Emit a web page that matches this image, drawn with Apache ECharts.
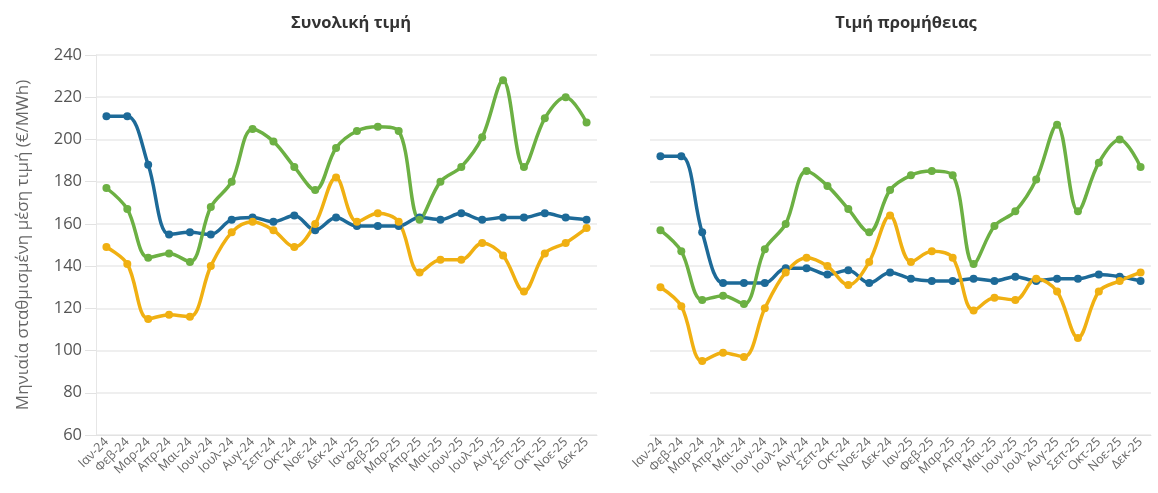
<!DOCTYPE html>
<html lang="el">
<head>
    <meta charset="UTF-8">
    <title>Τιμές ρεύματος</title>
    <style>
        html, body { margin: 0; padding: 0; background: #fff; }
        #main { width: 1158px; height: 493px; }
    </style>
</head>
<body>
<div id="main"></div>
<script src="https://cdn.jsdelivr.net/npm/echarts@6/dist/echarts.min.js"></script>
<script type="text/javascript">
    var months = ['Ιαν-24', 'Φεβ-24', 'Μαρ-24', 'Απρ-24', 'Μαι-24', 'Ιουν-24', 'Ιουλ-24', 'Αυγ-24', 'Σεπ-24', 'Οκτ-24', 'Νοε-24', 'Δεκ-24',
                  'Ιαν-25', 'Φεβ-25', 'Μαρ-25', 'Απρ-25', 'Μαι-25', 'Ιουν-25', 'Ιουλ-25', 'Αυγ-25', 'Σεπ-25', 'Οκτ-25', 'Νοε-25', 'Δεκ-25'];
    var panelTitles = ['Συνολική τιμή', 'Τιμή προμήθειας'];
    var yName = 'Μηνιαία σταθμισμένη μέση τιμή (€/MWh)';

    // Συνολική τιμή
    var totalBlue = [211, 211, 188, 155, 156, 155, 162, 163, 161, 164, 157, 163,
                     159, 159, 159, 163, 162, 165, 162, 163, 163, 165, 163, 162];
    var totalGreen = [177, 167, 144, 146, 142, 168, 180, 205, 199, 187, 176, 196,
                      204, 206, 204, 162, 180, 187, 201, 228, 187, 210, 220, 208];
    var totalYellow = [149, 141, 115, 117, 116, 140, 156, 161, 157, 149, 160, 182,
                       161, 165, 161, 137, 143, 143, 151, 145, 128, 146, 151, 158];

    // Τιμή προμήθειας
    var supplyBlue = [192, 192, 156, 132, 132, 132, 139, 139, 136, 138, 132, 137,
                      134, 133, 133, 134, 133, 135, 133, 134, 134, 136, 135, 133];
    var supplyGreen = [157, 147, 124, 126, 122, 148, 160, 185, 178, 167, 156, 176,
                       183, 185, 183, 141, 159, 166, 181, 207, 166, 189, 200, 187];
    var supplyYellow = [130, 121, 95, 99, 97, 120, 137, 144, 140, 131, 142, 164,
                        142, 147, 144, 119, 125, 124, 134, 128, 106, 128, 133, 137];

    var colors = ['#1d6a98', '#6cb043', '#f0b012'];
    var fontFam = '"Open Sans", "Noto Sans", sans-serif';

    var chart = echarts.init(document.getElementById('main'));

    function makeX(idx) {
        return {
            type: 'category',
            gridIndex: idx,
            data: months,
            boundaryGap: true,
            axisLine: { lineStyle: { color: '#e2e2e2', width: 1 } },
            axisTick: { alignWithLabel: true, length: 9, lineStyle: { color: '#e2e2e2' } },
            axisLabel: {
                interval: 0, rotate: 45, color: '#666', fontSize: 12.5,
                fontFamily: fontFam, margin: 5
            }
        };
    }

    function makeY(idx) {
        var y = {
            type: 'value',
            gridIndex: idx,
            min: 60, max: 240, interval: 20,
            splitLine: { lineStyle: { color: '#eaeaea', width: 1.5 } },
            axisLine: { show: idx === 0, lineStyle: { color: '#e6e6e6' } },
            axisTick: { show: idx === 0, length: 11, lineStyle: { color: '#e2e2e2' } },
            axisLabel: {
                show: idx === 0, color: '#555', fontSize: 16.5,
                fontFamily: fontFam, margin: 14
            }
        };
        if (idx === 0) {
            y.name = yName;
            y.nameLocation = 'middle';
            y.nameGap = 64;
            y.nameTextStyle = { color: '#666', fontSize: 17, fontFamily: fontFam };
        }
        return y;
    }

    function line(name, data, idx, color) {
        return {
            name: name,
            type: 'line',
            xAxisIndex: idx,
            yAxisIndex: idx,
            data: data,
            smooth: 0.35,
            symbol: 'circle',
            symbolSize: 8,
            lineStyle: { width: 3.5, color: color },
            itemStyle: { color: color },
            emphasis: { disabled: true }
        };
    }

    var option = {
        backgroundColor: '#fff',
        animation: false,
        title: [
            {
                text: panelTitles[0], left: 346, top: 10, textAlign: 'center',
                textStyle: { fontSize: 16.5, fontWeight: 'bold', color: '#333', fontFamily: fontFam }
            },
            {
                text: panelTitles[1], left: 901, top: 10, textAlign: 'center',
                textStyle: { fontSize: 16.5, fontWeight: 'bold', color: '#333', fontFamily: fontFam }
            }
        ],
        grid: [
            { left: 96, width: 501, top: 55, height: 380, containLabel: false },
            { left: 650, width: 501, top: 55, height: 380, containLabel: false }
        ],
        xAxis: [makeX(0), makeX(1)],
        yAxis: [makeY(0), makeY(1)],
        series: [
            line('Μπλε', totalBlue, 0, colors[0]),
            line('Πράσινο', totalGreen, 0, colors[1]),
            line('Κίτρινο', totalYellow, 0, colors[2]),
            line('Μπλε', supplyBlue, 1, colors[0]),
            line('Πράσινο', supplyGreen, 1, colors[1]),
            line('Κίτρινο', supplyYellow, 1, colors[2])
        ]
    };
    chart.setOption(option);
</script>
</body>
</html>
